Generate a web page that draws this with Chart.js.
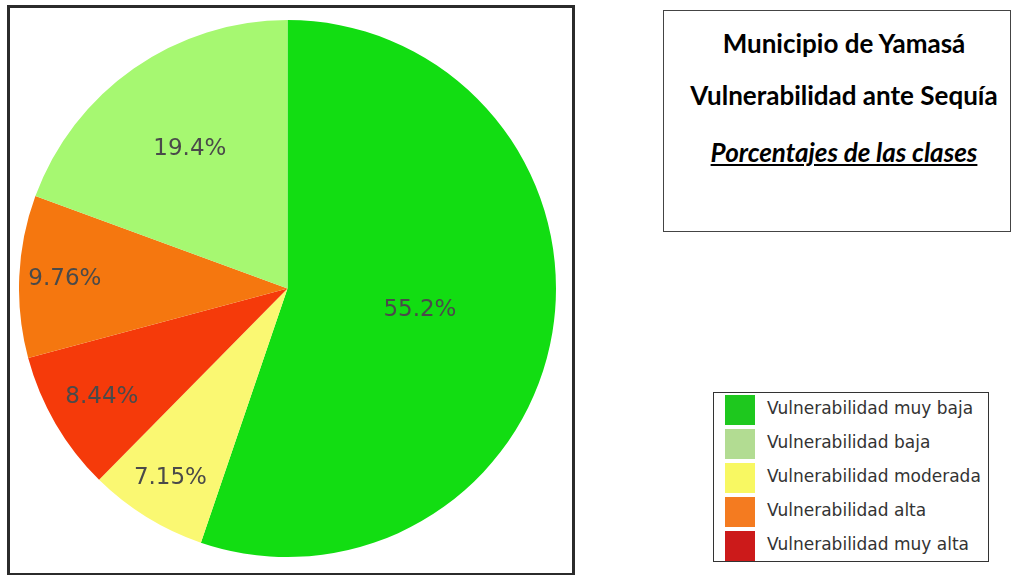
<!DOCTYPE html>
<html>
<head>
<meta charset="utf-8">
<script src="https://cdn.jsdelivr.net/npm/chart.js@4"></script>
<style>
  body { margin: 0; width: 1011px; height: 575px; background: #fff; position: relative; overflow: hidden; }
  #frame { position: absolute; left: 7px; top: 5px; width: 562px; height: 565px; border: 3px solid #2b2b2b; }
  #pie-wrap { position: absolute; left: 19px; top: 20px; width: 537px; height: 537px; }
  #title-box { position: absolute; left: 663px; top: 10px; width: 346px; height: 220px; border: 1px solid #444;
    font-family: Lato, "Open Sans", sans-serif; font-weight: bold; font-size: 26px; line-height: 30px; color: #000; text-align: center; }
  #title-box div { position: absolute; left: 14px; right: 0; }
  #legend-box { position: absolute; left: 713px; top: 392px; width: 274px; height: 168px; border: 1px solid #333;
    font-family: "DejaVu Sans", sans-serif; font-size: 17px; color: #333; }
  .row { position: absolute; left: 11px; height: 30px; }
  .sw { position: absolute; left: 0; top: 0; width: 30px; height: 30px; }
  .lb { position: absolute; left: 42px; top: 3px; white-space: nowrap; }
</style>
</head>
<body>
<div id="frame"></div>
<div id="pie-wrap"><canvas id="pie-chart"></canvas></div>
<div id="title-box">
  <div style="top:17px">Municipio de Yamasá</div>
  <div style="top:69px">Vulnerabilidad ante Sequía</div>
  <div style="top:126px"><i><u>Porcentajes de las clases</u></i></div>
</div>
<div id="legend-box"></div>
<script>
// slices in clockwise order from 12 o'clock
var categories = ["Vulnerabilidad muy baja", "Vulnerabilidad moderada", "Vulnerabilidad muy alta", "Vulnerabilidad alta", "Vulnerabilidad baja"];
var values = [55.2, 7.15, 8.44, 9.76, 19.4];
var valueLabels = ["55.2%", "7.15%", "8.44%", "9.76%", "19.4%"];
var sliceColors = ["#12dd12", "#faf872", "#f53a0a", "#f5770f", "#a6f871"];
var legendOrder = [0, 4, 1, 3, 2];
var legendColors = ["#1ec81e", "#f8f862", "#cc1a1a", "#f47b20", "#b2dc92"];

// how far out each label sits (fraction of radius)
var labelRadius = [0.5, 0.83, 0.8, 0.83, 0.635];

var sliceLabels = {
  id: "sliceLabels",
  afterDatasetsDraw: function(chart) {
    var ctx = chart.ctx;
    var meta = chart.getDatasetMeta(0);
    ctx.save();
    ctx.font = "23px 'DejaVu Sans', sans-serif";
    ctx.fillStyle = "#4a4a4a";
    ctx.textAlign = "center";
    ctx.textBaseline = "middle";
    meta.data.forEach(function(arc, i) {
      var p = arc.getProps(["x", "y", "startAngle", "endAngle", "outerRadius"], true);
      var mid = (p.startAngle + p.endAngle) / 2;
      var r = p.outerRadius * labelRadius[i];
      ctx.fillText(valueLabels[i], p.x + Math.cos(mid) * r, p.y + Math.sin(mid) * r);
    });
    ctx.restore();
  }
};

document.addEventListener("DOMContentLoaded", function() {
  var pieCanvas = document.getElementById("pie-chart").getContext("2d");
  var pieChart = new Chart(pieCanvas, {
    type: "pie",
    data: {
      labels: categories,
      datasets: [{
        data: values,
        backgroundColor: sliceColors,
        borderWidth: 0
      }]
    },
    options: {
      responsive: true,
      maintainAspectRatio: false,
      animation: false,
      layout: { padding: 0 },
      plugins: {
        legend: { display: false },
        tooltip: { enabled: false }
      }
    },
    plugins: [sliceLabels]
  });

  var legendBox = document.getElementById("legend-box");
  legendOrder.forEach(function(idx, row) {
    var div = document.createElement("div");
    div.className = "row";
    div.style.top = (2 + row * 34) + "px";
    div.innerHTML = '<div class="sw" style="background:' + legendColors[idx] + '"></div>' +
      '<div class="lb">' + categories[idx] + '</div>';
    legendBox.appendChild(div);
  });
});
</script>
</body>
</html>
